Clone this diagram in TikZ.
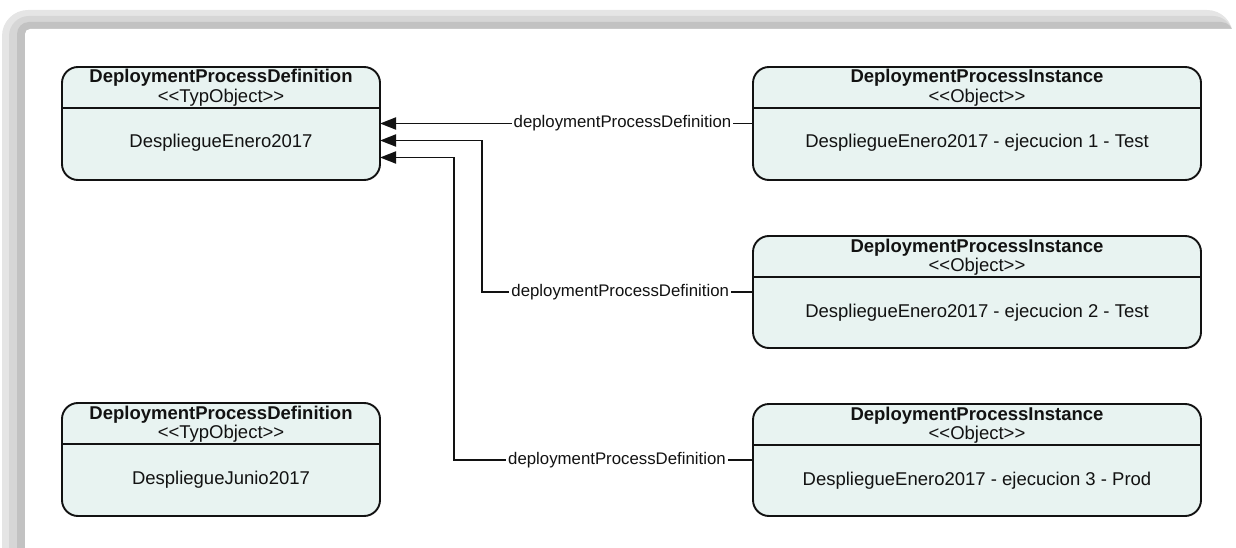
\documentclass[tikz,border=0pt]{standalone}
\usepackage{fontspec}
\setmainfont{Liberation Sans}
\usetikzlibrary{arrows.meta}

\definecolor{objfill}{RGB}{232,243,241}
\definecolor{ink}{RGB}{18,18,18}

\tikzset{
  objbox/.style={draw=ink, fill=objfill, line width=1.9pt, rounded corners=16pt,
                 inner sep=0pt, outer sep=0pt},
  objrule/.style={draw=ink, line width=1.7pt},
  titletext/.style={font=\fontsize{18.5}{20}\selectfont\bfseries, text=ink, inner sep=0pt, anchor=base},
  stereotext/.style={font=\fontsize{18.5}{20}\selectfont, text=ink, inner sep=0pt, anchor=base},
  bodytext/.style={font=\fontsize{18.5}{20}\selectfont, text=ink, inner sep=0pt, anchor=base},
  conn/.style={draw=ink, line width=1.9pt, -{Triangle[length=16pt,width=12pt]}},
  connlabel/.style={fill=white, inner sep=2pt, font=\fontsize{16.8}{18}\selectfont, text=ink}
}

% Object box: name, left x, top y, width, height, title, stereotype, value
\newcommand\umlobj[8]{%
  \node[objbox, minimum width=#4pt, minimum height=#5pt, anchor=north west] (#1) at (#2,#3) {};
  \draw[objrule] ([yshift=-41pt]#1.north west) -- ([yshift=-41pt]#1.north east);
  \node[titletext]  (#1-title)  at ([yshift=-16pt]#1.north) {#6};
  \node[stereotext] (#1-stereo) at ([yshift=-35.5pt]#1.north) {#7};
  \node[bodytext]   (#1-value)  at ([yshift=-81pt]#1.north) {#8};
}

\begin{document}
\begin{tikzpicture}[x=1pt, y=-1pt]
  \useasboundingbox (0,0) rectangle (1236,548);
  \begin{scope}
    \clip (0,0) rectangle (1236,548);
    % shadow of the sheet along its top and left edges
    \fill[gray!20, rounded corners=26pt] (2,600) -- (2,10) -- (1233,10) -- (1233,600) -- cycle;
    \fill[gray!32, rounded corners=20pt] (9,600) -- (9,16) -- (1233,16) -- (1233,600) -- cycle;
    \fill[gray!48, rounded corners=12pt] (17,600) -- (17,22) -- (1233,22) -- (1233,600) -- cycle;
    \fill[white, rounded corners=5pt] (25,600) -- (25,29) -- (1240,29) -- (1240,600) -- cycle;
  \end{scope}

  % type objects
  \umlobj{defEnero}{62}{67}{318}{113}{DeploymentProcessDefinition}{<{}<TypObject>{}>}{DespliegueEnero2017}
  \umlobj{defJunio}{62}{403}{318}{113}{DeploymentProcessDefinition}{<{}<TypObject>{}>}{DespliegueJunio2017}

  % instances
  \umlobj{instA}{753}{67}{448}{113}{DeploymentProcessInstance}{<{}<Object>{}>}{DespliegueEnero2017 - ejecucion 1 - Test}
  \umlobj{instB}{753}{236}{448}{112}{DeploymentProcessInstance}{<{}<Object>{}>}{DespliegueEnero2017 - ejecucion 2 - Test}
  \umlobj{instC}{753}{404}{448}{112}{DeploymentProcessInstance}{<{}<Object>{}>}{DespliegueEnero2017 - ejecucion 3 - Prod}

  % bend columns of the routed connectors
  \coordinate (colB) at (482,0);
  \coordinate (colC) at (454,0);

  \draw[conn] (instA.west) -- node[connlabel, pos=0.35] {deploymentProcessDefinition} (defEnero.east);
  \draw[conn] (instB.west) -- node[connlabel, pos=0.49] {deploymentProcessDefinition} (instB.west -| colB)
              |- ([yshift=-17pt]defEnero.east);
  \draw[conn] (instC.west) -- node[connlabel, pos=0.455] {deploymentProcessDefinition} (instC.west -| colC)
              |- ([yshift=-34pt]defEnero.east);
\end{tikzpicture}
\end{document}
